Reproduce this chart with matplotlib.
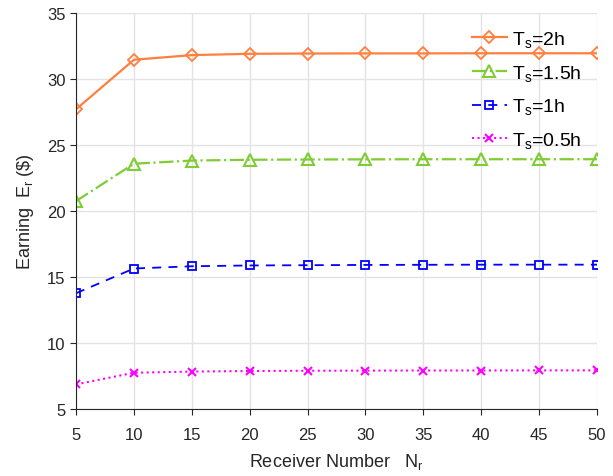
import matplotlib
matplotlib.use("Agg")
import matplotlib.pyplot as plt

plt.rcParams['font.family'] = ['Liberation Sans', 'DejaVu Sans']
plt.rcParams['mathtext.fontset'] = 'custom'
plt.rcParams['mathtext.rm'] = 'Liberation Sans'
plt.rcParams['mathtext.it'] = 'Liberation Sans'

receivers = [5, 10, 15, 20, 25, 30, 35, 40, 45, 50]
earn_2h = [27.7, 31.45, 31.8, 31.9, 31.92, 31.93, 31.93, 31.94, 31.94, 31.94]
earn_15h = [20.75, 23.58, 23.82, 23.88, 23.9, 23.91, 23.92, 23.92, 23.92, 23.92]
earn_1h = [13.78, 15.65, 15.82, 15.88, 15.9, 15.92, 15.93, 15.94, 15.94, 15.94]
earn_05h = [6.88, 7.76, 7.85, 7.89, 7.91, 7.92, 7.93, 7.93, 7.94, 7.94]

fig = plt.figure(figsize=(6.13, 4.77), dpi=100)
ax = fig.add_axes([0.124, 0.140, 0.850, 0.831])

ax.plot(receivers, earn_2h, '-', color='#FF7F3F', marker='D', mfc='none',
        ms=6.5, mew=1.3, lw=1.6, label='T$_s$=2h')
ax.plot(receivers, earn_15h, '-.', color='#7FCC33', marker='^', mfc='none',
        ms=8, mew=1.5, lw=1.6, label='T$_s$=1.5h')
ax.plot(receivers, earn_1h, '--', color='#0000FF', marker='s', mfc='none',
        ms=6, mew=1.3, lw=1.3, dashes=(5, 4), label='T$_s$=1h')
ax.plot(receivers, earn_05h, ':', color='#FF00FF', marker='x', ms=5.5,
        mew=1.5, lw=1.5, label='T$_s$=0.5h')

ax.set_xlim(5, 50)
ax.set_ylim(5, 35)
ax.set_xticks(receivers)
ax.set_yticks(range(5, 36, 5))
ax.grid(True, color='#e3e3e3', lw=1)
ax.set_axisbelow(True)
for s in ['top', 'right']:
    ax.spines[s].set_visible(False)
ax.spines['left'].set_color('#262626')
ax.spines['bottom'].set_color('#262626')
ax.tick_params(direction='out', length=4, labelsize=12, colors='#262626')
ax.tick_params(axis='x', pad=9)

ax.set_xlabel('Receiver Number   N$_r$', fontsize=13, color='#262626', labelpad=6)
ax.set_ylabel(r'Earning  E$_r$ (\$)', fontsize=13, color='#262626', labelpad=8)

ax.legend(loc='upper left', frameon=False, fontsize=14, handlelength=1.8,
          handletextpad=0.25, borderaxespad=0.0, labelspacing=0.7,
          bbox_to_anchor=(0.757, 0.953), bbox_transform=fig.transFigure)

fig.savefig('out.png', dpi=100)
